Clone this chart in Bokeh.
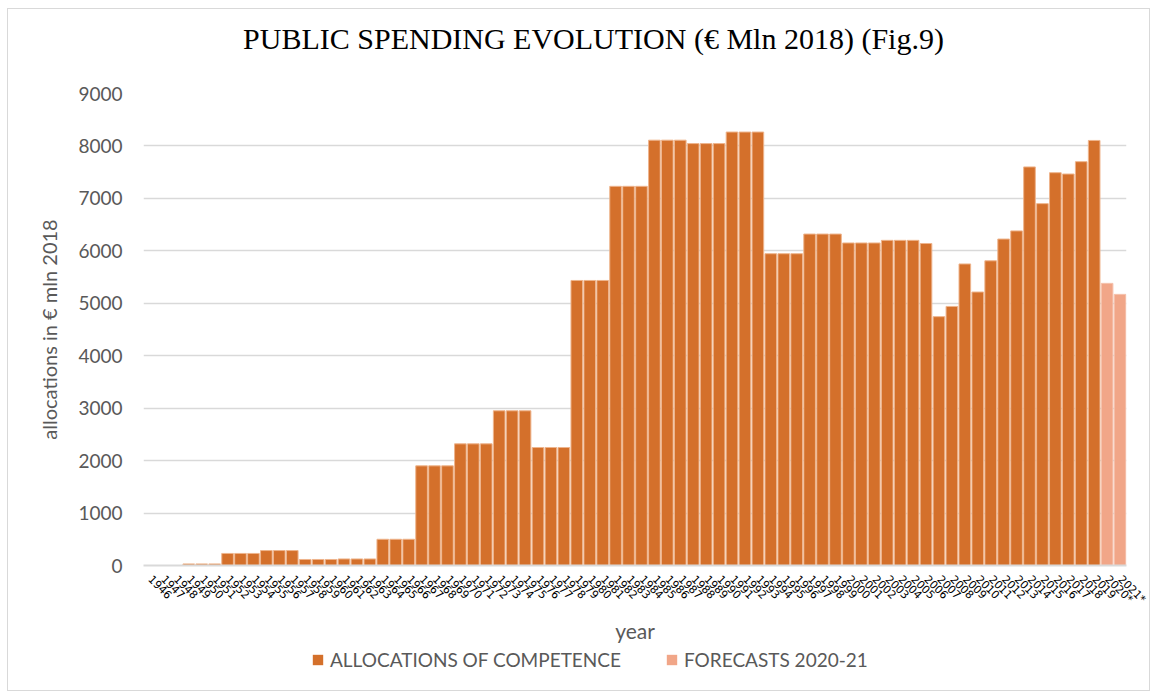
from bokeh.plotting import figure
from bokeh.models import FactorRange, Range1d, FixedTicker, Legend, LegendItem, ColumnDataSource, Label
from bokeh.layouts import column
from bokeh.embed import file_html
from bokeh.resources import INLINE
import math

# ---------------- data ----------------
years = ["1946", "1947", "1948", "1949", "1950", "1951", "1952", "1953", "1954", "1955",
         "1956", "1957", "1958", "1959", "1960", "1961", "1962", "1963", "1964", "1965",
         "1966", "1967", "1968", "1969", "1970", "1971", "1972", "1973", "1974", "1975",
         "1976", "1977", "1978", "1979", "1980", "1981", "1982", "1983", "1984", "1985",
         "1986", "1987", "1988", "1989", "1990", "1991", "1992", "1993", "1994", "1995",
         "1996", "1997", "1998", "1999", "2000", "2001", "2002", "2003", "2004", "2005",
         "2006", "2007", "2008", "2009", "2010", "2011", "2012", "2013", "2014", "2015",
         "2016", "2017", "2018", "2019"]
allocations = [0, 0, 0, 30, 30, 30, 230, 230, 230, 285,
               285, 285, 115, 115, 115, 125, 125, 125, 500, 500,
               500, 1900, 1900, 1900, 2320, 2320, 2320, 2950, 2950, 2950,
               2250, 2250, 2250, 5435, 5435, 5435, 7230, 7230, 7230, 8110,
               8110, 8110, 8045, 8045, 8045, 8265, 8265, 8265, 5945, 5945,
               5945, 6320, 6320, 6320, 6150, 6150, 6150, 6200, 6200, 6200,
               6140, 4745, 4940, 5750, 5215, 5810, 6225, 6380, 7600, 6900,
               7490, 7465, 7700, 8105]
forecast_years = ["2020*", "2021*"]
forecasts = [5380, 5170]
y_ticks = [0, 1000, 2000, 3000, 4000, 5000, 6000, 7000, 8000, 9000]

title_text = "PUBLIC SPENDING EVOLUTION (€ Mln 2018) (Fig.9)"
series_names = ["ALLOCATIONS OF COMPETENCE", "FORECASTS 2020-21"]

FONT = "Lato"
W = 1141
COL_A = "#D4702B"
COL_F = "#F1A688"

# ---------------- title strip ----------------
p0 = figure(width=W, height=60, min_border=0, x_axis_type=None, y_axis_type=None,
            output_backend="svg", toolbar_location=None)
p0.outline_line_color = None
p0.xgrid.visible = False
p0.ygrid.visible = False
p0.add_layout(Label(x=450, y=31, x_units="screen", y_units="screen", text=title_text,
                    text_font="Liberation Serif", text_font_size="30px", text_color="#000000",
                    text_align="center", text_baseline="middle"))

# ---------------- main chart ----------------
x_factors = FactorRange(factors=years + forecast_years, range_padding=0)
p = figure(x_range=x_factors, y_range=Range1d(0, 9000),
           frame_width=983, frame_height=472,
           min_border_left=135, min_border_right=23,
           min_border_top=24, min_border_bottom=80,
           output_backend="svg", toolbar_location=None)
p.outline_line_color = None

src_a = ColumnDataSource(dict(x=years, top=allocations))
src_f = ColumnDataSource(dict(x=forecast_years, top=forecasts))
p.vbar(x="x", top="top", width=0.9, source=src_a,
       fill_color=COL_A, line_color="#EEB48C", line_width=1)
p.vbar(x="x", top="top", width=0.9, source=src_f,
       fill_color=COL_F, line_color="#F5C3AE", line_width=1)

p.yaxis.ticker = FixedTicker(ticks=y_ticks)
p.yaxis.axis_line_color = None
p.yaxis.major_tick_line_color = None
p.yaxis.minor_tick_line_color = None
p.yaxis.major_label_text_font = FONT
p.yaxis.major_label_text_font_size = "19px"
p.yaxis.major_label_text_color = "#595959"
p.yaxis.major_label_standoff = 15
p.yaxis.axis_label = "allocations in € mln 2018"
p.yaxis.axis_label_text_font = FONT
p.yaxis.axis_label_text_font_size = "20px"
p.yaxis.axis_label_text_font_style = "normal"
p.yaxis.axis_label_text_color = "#595959"
p.yaxis.axis_label_standoff = 14

p.xaxis.axis_line_color = "#d9d9d9"
p.xaxis.axis_line_width = 2
p.xaxis.major_tick_line_color = None
p.xaxis.minor_tick_line_color = None
p.xaxis.major_label_orientation = -math.pi / 4
p.xaxis.major_label_text_font = "DejaVu Sans"
p.xaxis.major_label_text_font_size = "11px"
p.xaxis.major_label_text_color = "#000000"
p.xaxis.major_label_standoff = 6
p.xaxis.axis_label = "year"
p.xaxis.axis_label_text_font = FONT
p.xaxis.axis_label_text_font_size = "21px"
p.xaxis.axis_label_text_font_style = "normal"
p.xaxis.axis_label_text_color = "#595959"
p.xaxis.axis_label_standoff = 5

p.xgrid.grid_line_color = None
p.ygrid.grid_line_color = "#d9d9d9"
p.ygrid.grid_line_width = 1.5

# ---------------- legend strip ----------------
# the strip's x range holds no factor of the data, so its bars never show; only the legend does
p2 = figure(width=W, height=44, min_border=0, x_axis_type=None, y_axis_type=None,
            x_range=FactorRange(factors=["legend"]), y_range=Range1d(0, 1),
            output_backend="svg", toolbar_location=None)
p2.outline_line_color = None
p2.xgrid.visible = False
p2.ygrid.visible = False
la = p2.vbar(x="x", top="top", width=0.9, source=src_a, fill_color=COL_A, line_color=None)
lf = p2.vbar(x="x", top="top", width=0.9, source=src_f, fill_color=COL_F, line_color=None)
legend = Legend(items=[LegendItem(label=series_names[0], renderers=[la]),
                       LegendItem(label=series_names[1], renderers=[lf])],
                orientation="horizontal", location=(168, 19),
                label_text_font=FONT, label_text_font_size="19px", label_text_color="#595959",
                label_height=20, glyph_width=13, glyph_height=13, label_standoff=6, spacing=44,
                padding=0, margin=0, border_line_color=None, background_fill_alpha=0)
p2.add_layout(legend, "center")

layout = column(p0, p, p2, spacing=0)
layout.margin = (8, 0, 0, 7)
layout.styles = {"border": "1px solid #d9d9d9", "background-color": "white"}

open("out.html", "w").write(file_html(layout, INLINE))
